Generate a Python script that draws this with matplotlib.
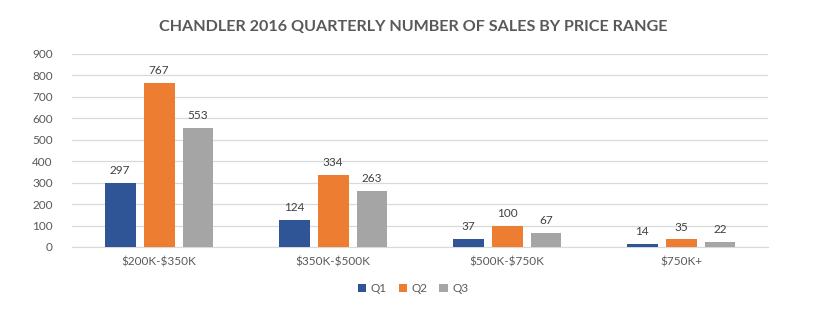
import numpy as np
import matplotlib.pyplot as plt

categories = ["$200K-$350K", "$350K-$500K", "$500K-$750K", "$750K+"]
q1 = [297, 124, 37, 14]
q2 = [767, 334, 100, 35]
q3 = [553, 263, 67, 22]
series = ["Q1", "Q2", "Q3"]
colors = ["#2F5597", "#ED7D31", "#A5A5A5"]

plt.rcParams['font.family'] = ['Lato', 'DejaVu Sans']
plt.rcParams['text.parse_math'] = False

fig = plt.figure(figsize=(8.26, 3.31), dpi=100)
ax = fig.add_axes([0.0872, 0.2538, 0.8426, 0.5831])

x = np.arange(len(categories))
width = 0.178
step = 0.224
for i, (vals, name, c) in enumerate(zip([q1, q2, q3], series, colors)):
    bars = ax.bar(x + (i - 1) * step, vals, width, color=c, label=name, zorder=3)
    for b, v in zip(bars, vals):
        ax.annotate(str(v), (b.get_x() + b.get_width() / 2, v),
                    xytext=(0, 5), textcoords='offset points',
                    ha='center', va='bottom', fontsize=8.5, color='#404040')

ax.set_xlim(-0.5, 3.5)
ax.set_ylim(0, 900)
ax.set_yticks(range(0, 901, 100))
ax.set_xticks(x)
ax.set_xticklabels(categories)
ax.grid(axis='y', color='#D9D9D9', linewidth=0.9, zorder=0)
for s in ['top', 'right', 'left']:
    ax.spines[s].set_visible(False)
ax.spines['bottom'].set_color('#D9D9D9')
ax.tick_params(axis='both', length=0, labelsize=8.5, colors='#595959')
ax.tick_params(axis='y', pad=14)
ax.tick_params(axis='x', pad=7)

fig.text(0.5, 0.918, "CHANDLER 2016 QUARTERLY NUMBER OF SALES BY PRICE RANGE",
         ha='center', va='center', fontsize=11.6, fontweight='bold', color='#595959')

fig.legend(loc='center', bbox_to_anchor=(0.5, 0.127), ncol=3, frameon=False,
           fontsize=8.5, handlelength=0.7, handleheight=0.7, handletextpad=0.4,
           columnspacing=1.0, labelcolor='#595959')

fig.savefig("out.png", dpi=100)
